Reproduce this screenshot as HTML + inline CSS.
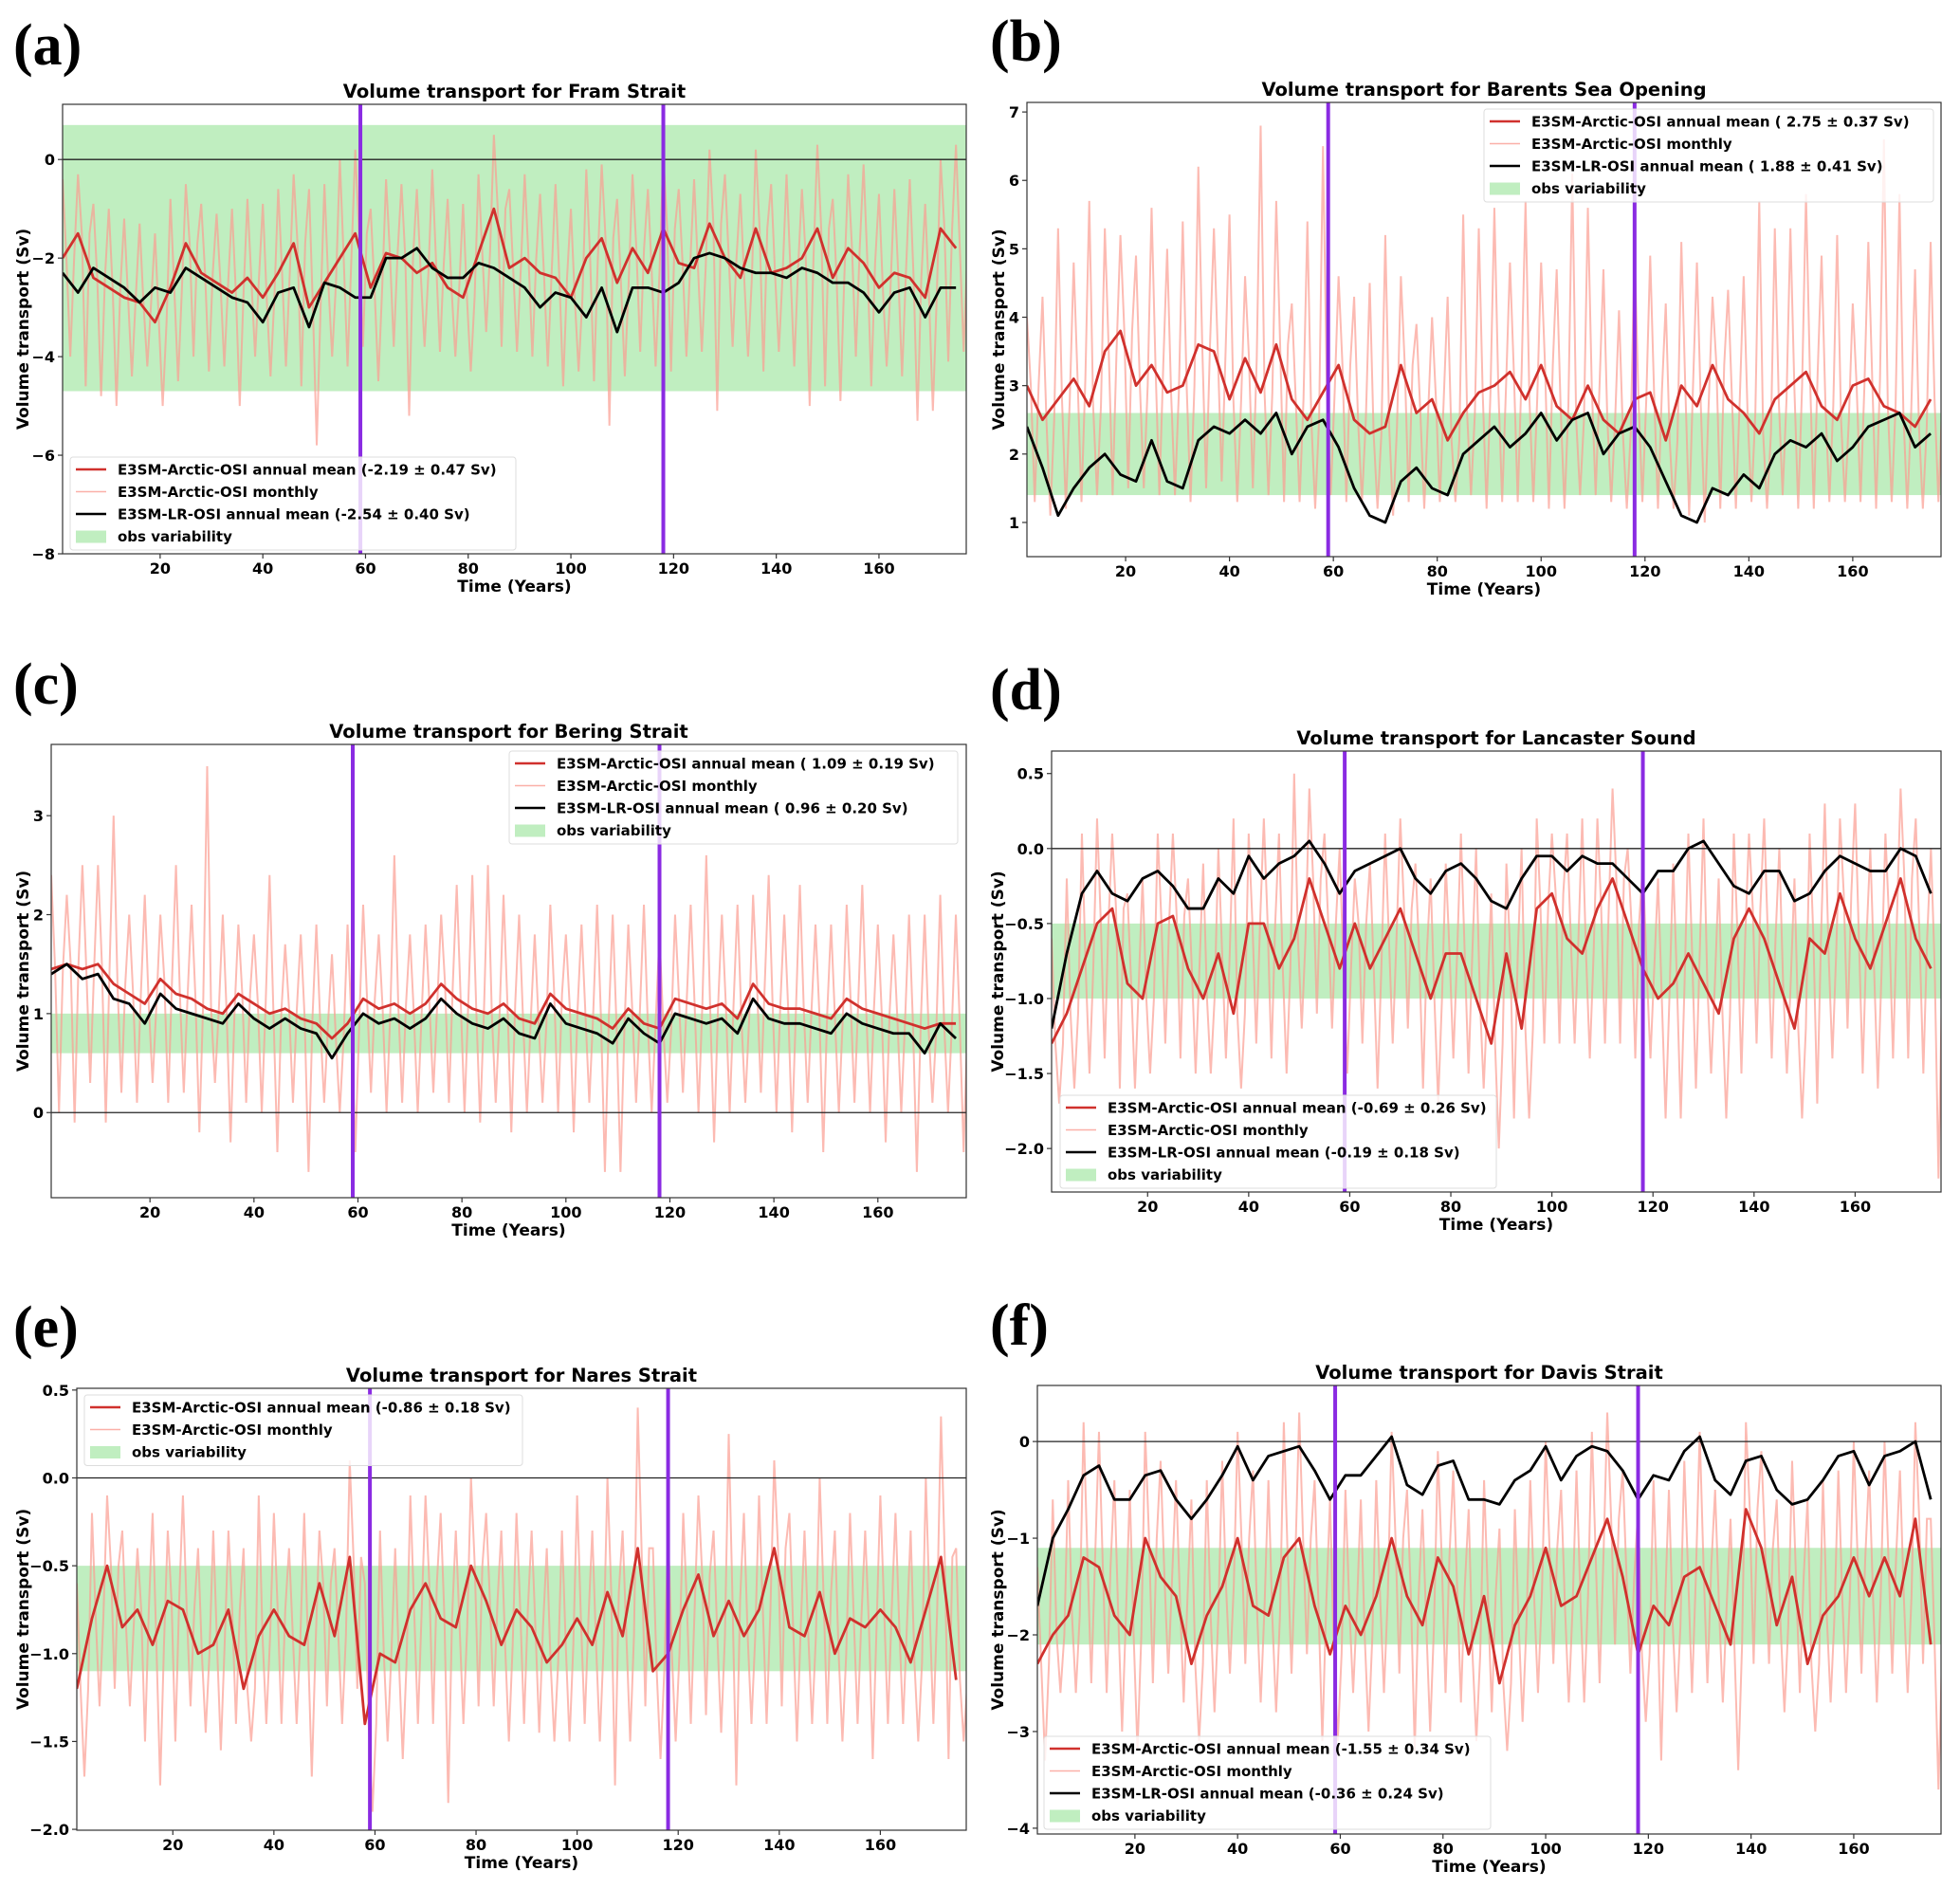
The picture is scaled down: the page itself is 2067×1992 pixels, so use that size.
<!DOCTYPE html>
<html><head><meta charset="utf-8"><style>
html,body{margin:0;padding:0;background:#fff;}
svg{display:block;font-family:"DejaVu Sans","Liberation Sans",sans-serif;}
</style></head><body>
<svg id="fig" width="2067" height="1992" viewBox="0 0 2067 1992" xmlns="http://www.w3.org/2000/svg"></svg>
<script>
const years=[1,4,7,10,13,16,19,22,25,28,31,34,37,40,43,46,49,52,55,58,61,64,67,70,73,76,79,82,85,88,91,94,97,100,103,106,109,112,115,118,121,124,127,130,133,136,139,142,145,148,151,154,157,160,163,166,169,172,175];
const xTicks=[20,40,60,80,100,120,140,160];
const markerYears=[59,118];

const aRed=[-2.0,-1.5,-2.4,-2.6,-2.8,-2.9,-3.3,-2.6,-1.7,-2.3,-2.5,-2.7,-2.4,-2.8,-2.3,-1.7,-3.0,-2.5,-2.0,-1.5,-2.6,-1.9,-2.0,-2.3,-2.1,-2.6,-2.8,-1.9,-1.0,-2.2,-2.0,-2.3,-2.4,-2.8,-2.0,-1.6,-2.5,-1.8,-2.3,-1.4,-2.1,-2.2,-1.3,-2.0,-2.4,-1.4,-2.3,-2.2,-2.0,-1.4,-2.4,-1.8,-2.1,-2.6,-2.3,-2.4,-2.8,-1.4,-1.8];
const aBlack=[-2.3,-2.7,-2.2,-2.4,-2.6,-2.9,-2.6,-2.7,-2.2,-2.4,-2.6,-2.8,-2.9,-3.3,-2.7,-2.6,-3.4,-2.5,-2.6,-2.8,-2.8,-2.0,-2.0,-1.8,-2.2,-2.4,-2.4,-2.1,-2.2,-2.4,-2.6,-3.0,-2.7,-2.8,-3.2,-2.6,-3.5,-2.6,-2.6,-2.7,-2.5,-2.0,-1.9,-2.0,-2.2,-2.3,-2.3,-2.4,-2.2,-2.3,-2.5,-2.5,-2.7,-3.1,-2.7,-2.6,-3.2,-2.6,-2.6];
const aHi=[-0.4,-0.3,-0.9,-1.0,-1.2,-1.3,-1.5,-0.8,-0.5,-0.9,-1.1,-1.0,-0.8,-0.9,-0.6,-0.3,-0.6,-0.5,0.0,0.2,-1.0,-0.4,-0.5,-0.6,-0.2,-0.8,-0.9,-0.3,0.5,-0.6,-0.3,-0.7,-0.5,-1.0,-0.2,-0.1,-0.8,-0.3,-0.6,0.1,-0.6,-0.4,0.2,-0.3,-0.7,0.2,-0.5,-0.3,-0.6,0.3,-0.8,-0.3,-0.1,-0.7,-0.6,-0.4,-0.9,0.0,0.3];
const aLo=[-4.0,-4.6,-4.8,-5.0,-4.4,-4.2,-5.0,-4.5,-4.0,-4.3,-4.2,-5.0,-4.0,-4.4,-4.2,-4.6,-5.8,-4.0,-4.2,-3.8,-4.5,-3.8,-5.2,-3.8,-3.9,-4.0,-4.3,-3.5,-3.8,-3.9,-4.0,-4.2,-4.6,-4.3,-4.5,-5.4,-4.4,-3.9,-4.2,-4.3,-4.0,-3.9,-5.1,-3.8,-4.0,-4.3,-3.9,-4.2,-5.0,-4.6,-4.9,-4.0,-4.6,-4.2,-4.4,-5.3,-5.1,-4.1,-3.9];
const aYTicks=[-8,-6,-4,-2,0];

const bRed=[3.0,2.5,2.8,3.1,2.7,3.5,3.8,3.0,3.3,2.9,3.0,3.6,3.5,2.8,3.4,2.9,3.6,2.8,2.5,2.9,3.3,2.5,2.3,2.4,3.3,2.6,2.8,2.2,2.6,2.9,3.0,3.2,2.8,3.3,2.7,2.5,3.0,2.5,2.3,2.8,2.9,2.2,3.0,2.7,3.3,2.8,2.6,2.3,2.8,3.0,3.2,2.7,2.5,3.0,3.1,2.7,2.6,2.4,2.8];
const bBlack=[2.4,1.8,1.1,1.5,1.8,2.0,1.7,1.6,2.2,1.6,1.5,2.2,2.4,2.3,2.5,2.3,2.6,2.0,2.4,2.5,2.1,1.5,1.1,1.0,1.6,1.8,1.5,1.4,2.0,2.2,2.4,2.1,2.3,2.6,2.2,2.5,2.6,2.0,2.3,2.4,2.1,1.6,1.1,1.0,1.5,1.4,1.7,1.5,2.0,2.2,2.1,2.3,1.9,2.1,2.4,2.5,2.6,2.1,2.3];
const bHi=[4.0,4.3,5.3,4.8,5.7,5.3,5.2,4.9,5.6,5.0,5.4,6.2,5.3,5.5,4.6,6.8,5.7,4.2,5.4,6.5,4.6,4.3,4.5,5.2,4.6,3.9,4.0,4.3,5.5,5.3,5.6,4.8,5.7,4.8,4.7,6.1,5.6,4.7,4.1,5.0,4.9,4.2,5.1,4.8,4.3,4.4,4.6,5.7,5.3,5.3,5.8,4.9,5.2,4.2,5.1,6.6,5.8,4.7,5.1];
const bLo=[1.3,1.1,1.2,1.3,1.4,1.4,1.5,1.5,1.4,1.4,1.3,1.5,1.6,1.3,1.5,1.4,1.3,1.3,1.2,1.4,1.3,1.3,1.2,1.1,1.3,1.2,1.3,1.3,1.4,1.2,1.3,1.3,1.3,1.2,1.2,1.4,1.4,1.3,1.2,1.3,1.2,1.2,1.1,1.0,1.2,1.2,1.3,1.2,1.4,1.2,1.2,1.3,1.3,1.3,1.2,1.3,1.2,1.2,1.3];
const bYTicks=[1,2,3,4,5,6,7];

const cRed=[1.45,1.5,1.45,1.5,1.3,1.2,1.1,1.35,1.2,1.15,1.05,1.0,1.2,1.1,1.0,1.05,0.95,0.9,0.75,0.9,1.15,1.05,1.1,1.0,1.1,1.3,1.15,1.05,1.0,1.1,0.95,0.9,1.2,1.05,1.0,0.95,0.85,1.05,0.9,0.85,1.15,1.1,1.05,1.1,0.95,1.3,1.1,1.05,1.05,1.0,0.95,1.15,1.05,1.0,0.95,0.9,0.85,0.9,0.9];
const cBlack=[1.4,1.5,1.35,1.4,1.15,1.1,0.9,1.2,1.05,1.0,0.95,0.9,1.1,0.95,0.85,0.95,0.85,0.8,0.55,0.8,1.0,0.9,0.95,0.85,0.95,1.15,1.0,0.9,0.85,0.95,0.8,0.75,1.1,0.9,0.85,0.8,0.7,0.95,0.8,0.7,1.0,0.95,0.9,0.95,0.8,1.15,0.95,0.9,0.9,0.85,0.8,1.0,0.9,0.85,0.8,0.8,0.6,0.9,0.75];
const cHi=[2.4,2.2,2.5,2.5,3.0,2.0,2.2,2.0,2.5,2.1,3.5,2.0,1.9,1.8,2.4,1.7,1.8,1.9,1.6,1.9,2.1,1.8,2.6,1.8,1.9,2.0,2.3,2.4,2.5,2.2,2.0,1.8,2.1,1.8,1.9,2.1,2.0,1.9,2.1,1.8,2.0,2.1,2.6,2.0,2.1,2.2,2.4,2.0,2.3,1.9,1.9,2.1,2.3,1.9,1.8,2.0,2.0,2.2,2.0];
const cLo=[0.0,-0.1,0.3,-0.1,0.2,0.1,0.3,0.1,0.2,-0.2,0.3,-0.3,0.1,0.0,-0.4,0.1,-0.6,0.1,0.0,-0.4,0.2,0.0,0.1,0.0,0.2,0.1,0.0,-0.1,0.1,-0.2,0.0,0.1,0.0,-0.2,0.1,-0.6,-0.6,0.1,0.0,0.1,0.2,0.0,-0.3,0.0,0.1,0.2,0.0,-0.2,0.1,-0.4,0.0,0.1,0.0,-0.3,0.0,-0.6,0.1,0.0,-0.4];
const cYTicks=[0,1,2,3];

const dRed=[-1.3,-1.1,-0.8,-0.5,-0.4,-0.9,-1.0,-0.5,-0.45,-0.8,-1.0,-0.7,-1.1,-0.5,-0.5,-0.8,-0.6,-0.2,-0.5,-0.8,-0.5,-0.8,-0.6,-0.4,-0.7,-1.0,-0.7,-0.7,-1.0,-1.3,-0.7,-1.2,-0.4,-0.3,-0.6,-0.7,-0.4,-0.2,-0.5,-0.8,-1.0,-0.9,-0.7,-0.9,-1.1,-0.6,-0.4,-0.6,-0.9,-1.2,-0.6,-0.7,-0.3,-0.6,-0.8,-0.5,-0.2,-0.6,-0.8];
const dBlack=[-1.2,-0.7,-0.3,-0.15,-0.3,-0.35,-0.2,-0.15,-0.25,-0.4,-0.4,-0.2,-0.3,-0.05,-0.2,-0.1,-0.05,0.05,-0.1,-0.3,-0.15,-0.1,-0.05,0.0,-0.2,-0.3,-0.15,-0.1,-0.2,-0.35,-0.4,-0.2,-0.05,-0.05,-0.15,-0.05,-0.1,-0.1,-0.2,-0.3,-0.15,-0.15,0.0,0.05,-0.1,-0.25,-0.3,-0.15,-0.15,-0.35,-0.3,-0.15,-0.05,-0.1,-0.15,-0.15,0.0,-0.05,-0.3];
const dHi=[-0.6,-0.2,0.1,0.2,0.1,-0.3,-0.2,0.1,0.1,-0.2,-0.1,0.0,0.2,0.1,0.2,0.1,0.5,0.4,0.1,0.0,-0.2,-0.1,0.1,0.2,-0.1,-0.2,-0.1,0.1,0.0,-0.3,-0.1,0.0,0.2,0.1,0.1,0.2,0.2,0.4,0.0,-0.1,-0.2,-0.1,0.1,0.2,-0.2,0.1,0.1,0.2,0.0,-0.2,0.1,0.3,0.2,0.3,0.0,0.1,0.4,0.2,0.0];
const dLo=[-1.7,-1.6,-1.5,-1.4,-1.6,-1.6,-1.5,-1.3,-1.4,-1.5,-1.5,-1.4,-1.6,-1.3,-1.4,-1.5,-1.2,-1.1,-1.2,-1.5,-1.3,-1.6,-1.3,-1.2,-1.6,-1.7,-1.4,-1.5,-1.6,-2.0,-1.8,-1.8,-1.3,-1.3,-1.3,-1.4,-1.3,-1.3,-1.4,-1.4,-1.8,-1.8,-1.6,-1.5,-1.8,-1.5,-1.3,-1.4,-1.5,-1.8,-1.7,-1.4,-1.2,-1.5,-1.6,-1.4,-1.4,-1.5,-2.2];
const dYTicks=[-2.0,-1.5,-1.0,-0.5,0.0,0.5];

const eRed=[-1.2,-0.8,-0.5,-0.85,-0.75,-0.95,-0.7,-0.75,-1.0,-0.95,-0.75,-1.2,-0.9,-0.75,-0.9,-0.95,-0.6,-0.9,-0.45,-1.4,-1.0,-1.05,-0.75,-0.6,-0.8,-0.85,-0.5,-0.7,-0.95,-0.75,-0.85,-1.05,-0.95,-0.8,-0.95,-0.65,-0.9,-0.4,-1.1,-1.0,-0.75,-0.55,-0.9,-0.7,-0.9,-0.75,-0.4,-0.85,-0.9,-0.65,-1.0,-0.8,-0.85,-0.75,-0.85,-1.05,-0.75,-0.45,-1.15];
const eHi=[-0.6,-0.2,-0.1,-0.3,-0.4,-0.2,-0.3,-0.1,-0.4,-0.3,-0.3,-0.4,-0.1,-0.2,-0.4,-0.2,-0.3,-0.4,0.1,-0.6,-0.3,-0.4,-0.1,-0.1,-0.2,-0.3,0.0,-0.2,-0.3,-0.2,-0.3,-0.4,-0.3,-0.1,-0.3,0.0,-0.3,0.4,-0.4,-0.3,-0.2,-0.1,-0.3,0.25,-0.2,-0.1,0.1,-0.2,-0.3,0.0,-0.3,-0.2,-0.3,-0.1,-0.2,-0.3,0.0,0.35,-0.4];
const eLo=[-1.7,-1.3,-1.2,-1.3,-1.5,-1.75,-1.5,-1.3,-1.45,-1.55,-1.4,-1.5,-1.4,-1.4,-1.4,-1.7,-1.3,-1.4,-1.2,-1.9,-1.5,-1.6,-1.4,-1.4,-1.85,-1.4,-1.3,-1.3,-1.5,-1.4,-1.45,-1.5,-1.5,-1.4,-1.5,-1.75,-1.5,-1.3,-1.6,-1.5,-1.4,-1.35,-1.45,-1.75,-1.4,-1.4,-1.3,-1.5,-1.4,-1.4,-1.5,-1.4,-1.6,-1.4,-1.4,-1.5,-1.4,-1.6,-1.5];
const eYTicks=[-2.0,-1.5,-1.0,-0.5,0.0,0.5];

const fRed=[-2.3,-2.0,-1.8,-1.2,-1.3,-1.8,-2.0,-1.0,-1.4,-1.6,-2.3,-1.8,-1.5,-1.0,-1.7,-1.8,-1.2,-1.0,-1.7,-2.2,-1.7,-2.0,-1.6,-1.0,-1.6,-1.9,-1.2,-1.5,-2.2,-1.6,-2.5,-1.9,-1.6,-1.1,-1.7,-1.6,-1.2,-0.8,-1.4,-2.2,-1.7,-1.9,-1.4,-1.3,-1.7,-2.1,-0.7,-1.1,-1.9,-1.4,-2.3,-1.8,-1.6,-1.2,-1.6,-1.2,-1.6,-0.8,-2.1];
const fBlack=[-1.7,-1.0,-0.7,-0.35,-0.25,-0.6,-0.6,-0.35,-0.3,-0.6,-0.8,-0.6,-0.35,-0.05,-0.4,-0.15,-0.1,-0.05,-0.3,-0.6,-0.35,-0.35,-0.15,0.05,-0.45,-0.55,-0.25,-0.2,-0.6,-0.6,-0.65,-0.4,-0.3,-0.05,-0.4,-0.15,-0.05,-0.1,-0.3,-0.6,-0.35,-0.4,-0.1,0.05,-0.4,-0.55,-0.2,-0.15,-0.5,-0.65,-0.6,-0.4,-0.15,-0.1,-0.45,-0.15,-0.1,0.0,-0.6];
const fHi=[-1.3,-0.6,-0.4,0.2,0.1,-0.4,-0.5,0.1,-0.2,-0.4,-0.6,-0.4,-0.2,0.1,-0.3,-0.4,0.2,0.3,-0.4,-0.6,-0.5,-0.6,-0.4,0.1,-0.5,-0.7,-0.1,-0.3,-0.7,-0.4,-0.9,-0.7,-0.4,0.0,-0.5,-0.3,0.1,0.3,-0.3,-0.7,-0.4,-0.5,-0.2,0.1,-0.5,-0.8,0.2,-0.1,-0.6,-0.2,-0.6,-0.4,-0.3,0.0,-0.3,0.0,-0.3,0.2,-0.8];
const fLo=[-3.3,-2.6,-2.6,-2.5,-2.6,-3.0,-3.2,-2.5,-2.4,-2.7,-3.1,-2.8,-2.4,-2.3,-2.7,-2.8,-2.4,-2.2,-3.1,-3.1,-2.6,-3.0,-2.6,-2.4,-3.2,-3.0,-2.6,-2.7,-3.1,-2.8,-3.2,-2.9,-2.6,-2.3,-2.7,-2.7,-2.5,-2.1,-2.4,-2.9,-3.3,-2.8,-2.6,-2.5,-2.7,-3.4,-2.3,-2.3,-2.8,-2.6,-3.0,-2.7,-2.6,-2.4,-2.7,-2.4,-2.6,-2.3,-3.6];
const fYTicks=[-4,-3,-2,-1,0];

const obsBands=[[-4.7,0.7],[1.4,2.6],[0.6,1.0],[-1.0,-0.5],[-1.1,-0.5],[-2.1,-1.1]];
const legendTexts=[
 ["E3SM-Arctic-OSI annual mean (-2.19 \u00b1  0.47 Sv)","E3SM-LR-OSI annual mean (-2.54 \u00b1  0.40 Sv)"],
 ["E3SM-Arctic-OSI annual mean ( 2.75 \u00b1  0.37 Sv)","E3SM-LR-OSI annual mean ( 1.88 \u00b1  0.41 Sv)"],
 ["E3SM-Arctic-OSI annual mean ( 1.09 \u00b1  0.19 Sv)","E3SM-LR-OSI annual mean ( 0.96 \u00b1  0.20 Sv)"],
 ["E3SM-Arctic-OSI annual mean (-0.69 \u00b1  0.26 Sv)","E3SM-LR-OSI annual mean (-0.19 \u00b1  0.18 Sv)"],
 ["E3SM-Arctic-OSI annual mean (-0.86 \u00b1  0.18 Sv)",null],
 ["E3SM-Arctic-OSI annual mean (-1.55 \u00b1  0.34 Sv)","E3SM-LR-OSI annual mean (-0.36 \u00b1  0.24 Sv)"]
];

const panels=[
 {id:'a',label:'(a)',lx:14,ly:68,title:'Volume transport for Fram Strait',L:66,R:1019,T:110,B:584,ymin:-8.0,ymax:1.12,red:aRed,black:aBlack,hi:aHi,lo:aLo,ticks:aYTicks,dec:0,band:0,leg:[74,482,470],ylx:30},
 {id:'b',label:'(b)',lx:1044,ly:64,title:'Volume transport for Barents Sea Opening',L:1083,R:2047,T:108,B:587,ymin:0.5,ymax:7.14,red:bRed,black:bBlack,hi:bHi,lo:bLo,ticks:bYTicks,dec:0,band:1,leg:[1565,115,474],ylx:1059},
 {id:'c',label:'(c)',lx:14,ly:742,title:'Volume transport for Bering Strait',L:54,R:1019,T:785,B:1263,ymin:-0.86,ymax:3.72,red:cRed,black:cBlack,hi:cHi,lo:cLo,ticks:cYTicks,dec:0,band:2,leg:[537,792,473],ylx:30},
 {id:'d',label:'(d)',lx:1044,ly:748,title:'Volume transport for Lancaster Sound',L:1109,R:2047,T:792,B:1257,ymin:-2.29,ymax:0.65,red:dRed,black:dBlack,hi:dHi,lo:dLo,ticks:dYTicks,dec:1,band:3,leg:[1118,1155,460],ylx:1058},
 {id:'e',label:'(e)',lx:14,ly:1420,title:'Volume transport for Nares Strait',L:81,R:1019,T:1464,B:1930,ymin:-2.005,ymax:0.51,red:eRed,black:null,hi:eHi,lo:eLo,ticks:eYTicks,dec:1,band:4,leg:[89,1471,462],ylx:30},
 {id:'f',label:'(f)',lx:1044,ly:1418,title:'Volume transport for Davis Strait',L:1094,R:2047,T:1461,B:1934,ymin:-4.06,ymax:0.58,red:fRed,black:fBlack,hi:fHi,lo:fLo,ticks:fYTicks,dec:0,band:5,leg:[1101,1831,471],ylx:1058}
];

const NS='http://www.w3.org/2000/svg';
const svg=document.getElementById('fig');
function mk(tag,attrs,parent){const e=document.createElementNS(NS,tag);for(const k in attrs)e.setAttribute(k,attrs[k]);(parent||svg).appendChild(e);return e;}
function fmt(v,d){const s=v.toFixed(d);return v<0?'\u2212'+s.slice(1):s;}

panels.forEach((p,pi)=>{
 const g=mk('g',{});
 
 
 const xs=v=>p.L+(v-1)/(177-1)*(p.R-p.L);
 const ys=v=>p.B-(v-p.ymin)/(p.ymax-p.ymin)*(p.B-p.T);
 const clipId='clip'+p.id;
 const cp=mk('clipPath',{id:clipId},g);mk('rect',{x:p.L,y:p.T,width:p.R-p.L,height:p.B-p.T},cp);

 const lab=mk('text',{x:p.lx,y:p.ly,'font-family':'"Liberation Serif",serif','font-weight':'bold','font-size':62,fill:'#000'},g);
 lab.textContent=p.label;
 
 

 const t=mk('text',{x:(p.L+p.R)/2,y:p.T-7,'text-anchor':'middle','font-weight':'bold','font-size':19.5,fill:'#000'},g);
 t.textContent=p.title;
 
 

 const plot=mk('g',{'clip-path':'url(#'+clipId+')'},g);
 const bd=obsBands[p.band];
 const band=mk('rect',{x:p.L,y:ys(bd[1]),width:p.R-p.L,height:ys(bd[0])-ys(bd[1]),fill:'rgba(130,222,130,0.5)'},plot);
 
 

 let pts=[];
 const n=Math.min(years.length,p.hi.length,p.lo.length,p.red.length);
 for(let i=0;i<n;i++){
  pts.push(xs(years[i])+','+ys(p.hi[i]));
  pts.push(xs(years[i]+0.75)+','+ys(p.red[i]));
  pts.push(xs(years[i]+1.5)+','+ys(p.lo[i]));
  pts.push(xs(years[i]+2.25)+','+ys(p.red[i]));
 }
 const pink=mk('polyline',{points:pts.join(' '),fill:'none',stroke:'#fb9d92','stroke-opacity':0.7,'stroke-width':2},plot);
 
 

 const zl=mk('line',{x1:p.L,x2:p.R,y1:ys(0),y2:ys(0),stroke:'#222','stroke-width':1.3},plot);
 
 

 const rp=p.red.map((v,i)=>xs(years[i])+','+ys(v)).join(' ');
 const red=mk('polyline',{points:rp,fill:'none',stroke:'#d0312d','stroke-width':2.8,'stroke-linejoin':'round'},plot);
 
 
 if(p.black){
  const bp=p.black.map((v,i)=>xs(years[i])+','+ys(v)).join(' ');
  const bl=mk('polyline',{points:bp,fill:'none',stroke:'#000','stroke-width':2.8,'stroke-linejoin':'round'},plot);
  
  
 }
 markerYears.forEach(m=>{
  const v=mk('line',{x1:xs(m),x2:xs(m),y1:p.T,y2:p.B,stroke:'#8a2be2','stroke-width':4},plot);
  
  
 });

 const [lx,ly,lw]=p.leg;
 const rows=p.black?4:3;
 const lg=mk('g',{},g);
 
 
 mk('rect',{x:lx,y:ly,width:lw,height:rows*23.5+4,rx:3,fill:'rgba(255,255,255,0.8)',stroke:'#ddd','stroke-width':1},lg);
 const items=[{t:legendTexts[pi][0],c:'#d0312d',w:2.6},{t:'E3SM-Arctic-OSI monthly',c:'#fbb0a8',w:1.6}];
 if(p.black)items.push({t:legendTexts[pi][1],c:'#000',w:2.6});
 items.push({t:'obs variability',box:true});
 items.forEach((it,k)=>{
  const cy=ly+13+k*23.5;
  const e=mk('g',{},lg);
  
  
  if(it.box)mk('rect',{x:lx+6,y:cy-6,width:32,height:13,fill:'rgba(130,222,130,0.5)'},e);
  else mk('line',{x1:lx+6,x2:lx+38,y1:cy,y2:cy,stroke:it.c,'stroke-width':it.w},e);
  const tx=mk('text',{x:lx+50,y:cy+5.5,'font-weight':'bold','font-size':15,fill:'#000'},e);
  tx.textContent=it.t;
 });

 const fr=mk('rect',{x:p.L,y:p.T,width:p.R-p.L,height:p.B-p.T,fill:'none',stroke:'#333','stroke-width':1.2},g);
 
 

 xTicks.forEach(v=>{
  const x=xs(v);
  mk('line',{x1:x,x2:x,y1:p.B,y2:p.B+5,stroke:'#333','stroke-width':1.2},g);
  const tl=mk('text',{x:x,y:p.B+21,'text-anchor':'middle','font-weight':'bold','font-size':16,fill:'#000'},g);
  tl.textContent=v;
  
  
 });
 p.ticks.forEach(v=>{
  const y=ys(v);
  mk('line',{x1:p.L-5,x2:p.L,y1:y,y2:y,stroke:'#333','stroke-width':1.2},g);
  const tl=mk('text',{x:p.L-8,y:y+6,'text-anchor':'end','font-weight':'bold','font-size':16,fill:'#000'},g);
  tl.textContent=fmt(v,p.dec);
  
  
 });
 const xl=mk('text',{x:(p.L+p.R)/2,y:p.B+40,'text-anchor':'middle','font-weight':'bold','font-size':17,fill:'#000'},g);
 xl.textContent='Time (Years)';
 
 
 const yl=mk('text',{x:0,y:0,transform:'translate('+p.ylx+','+((p.T+p.B)/2)+') rotate(-90)','text-anchor':'middle','font-weight':'bold','font-size':17,fill:'#000'},g);
 yl.textContent='Volume transport (Sv)';
 
 
});
</script>
</body></html>
